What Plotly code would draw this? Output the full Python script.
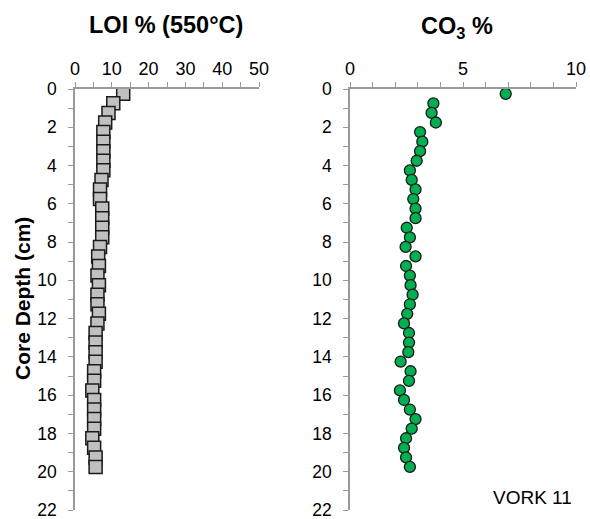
import plotly.graph_objects as go

depth = [0.25 + 0.5 * i for i in range(40)]
loi = [13.1, 10.4, 9.1, 8.2, 7.7, 7.7, 7.7, 7.7, 7.7, 7.2,
       6.8, 6.8, 7.4, 7.4, 7.4, 7.4, 6.8, 6.3, 6.5, 6.1,
       6.5, 6.1, 6.1, 6.5, 6.1, 5.6, 5.6, 5.6, 5.6, 5.2,
       5.2, 4.7, 5.2, 5.2, 5.2, 5.2, 4.7, 5.2, 5.6, 5.6]
co3 = [6.89, 3.69, 3.61, 3.80, 3.10, 3.20, 3.10, 2.95, 2.65, 2.73,
       2.90, 2.80, 2.90, 2.90, 2.51, 2.65, 2.46, 2.90, 2.48, 2.65,
       2.68, 2.77, 2.65, 2.53, 2.39, 2.61, 2.61, 2.58, 2.24, 2.68,
       2.61, 2.21, 2.39, 2.65, 2.90, 2.73, 2.48, 2.39, 2.48, 2.65]

W, H = 590, 519
FONT = "Liberation Sans, Arial, sans-serif"
AX = "#9a9a9a"

def px(x):
    return x / W

def py(y):
    return 1 - y / H

fig = go.Figure()
fig.add_trace(go.Scatter(
    x=loi, y=depth, xaxis="x", yaxis="y", mode="markers",
    marker=dict(symbol="square", size=13, color="#c0c0c0",
                line=dict(color="#1a1a1a", width=1.5)),
    showlegend=False))
fig.add_trace(go.Scatter(
    x=co3[1:], y=depth[1:], xaxis="x2", yaxis="y2", mode="lines",
    line=dict(color="#00b050", width=1, dash="dash"),
    showlegend=False, hoverinfo="skip"))
fig.add_trace(go.Scatter(
    x=co3, y=depth, xaxis="x2", yaxis="y2", mode="markers",
    marker=dict(symbol="circle", size=11, color="#00b050",
                line=dict(color="#1a1a1a", width=1.3)),
    showlegend=False))

xcommon = dict(side="top", showgrid=False, zeroline=False, showline=True,
               linecolor=AX, linewidth=1.5, ticks="outside", ticklen=5,
               tickcolor=AX, tickwidth=1, ticklabeloverflow="allow",
               tickfont=dict(family=FONT, size=18, color="#000"),
               automargin=False)
ycommon = dict(range=[22, 0], showgrid=False, zeroline=False, showline=True,
               linecolor=AX, linewidth=1.5, ticks="outside", ticklen=5,
               tickcolor=AX, tickwidth=1, dtick=2, tick0=0,
               ticklabeloverflow="allow", ticklabelstandoff=8,
               minor=dict(dtick=1, ticks="outside", ticklen=5, tickcolor=AX),
               tickfont=dict(family=FONT, size=17.5, color="#000"),
               automargin=False)

fig.update_layout(
    width=W, height=H,
    margin=dict(l=0, r=0, t=0, b=0),
    plot_bgcolor="white", paper_bgcolor="white",
    xaxis=dict(xcommon, domain=[px(75), px(259)], range=[0, 50], dtick=10,
               minor=dict(dtick=5, ticks="outside", ticklen=5, tickcolor=AX),
               anchor="y"),
    yaxis=dict(ycommon, domain=[py(510), py(89)], anchor="x"),
    xaxis2=dict(xcommon, domain=[px(350), px(576)], range=[0, 10], dtick=5,
                minor=dict(dtick=1, ticks="outside", ticklen=5, tickcolor=AX),
                anchor="y2"),
    yaxis2=dict(ycommon, domain=[py(510), py(89)], anchor="x2"),
    annotations=[
        dict(text="<b>LOI % (550°C)</b>", x=px(166), y=py(25), xref="paper", yref="paper",
             showarrow=False, xanchor="center", yanchor="middle",
             font=dict(family=FONT, size=23.5, color="#000")),
        dict(text="<b>CO<sub>3</sub> %</b>", x=px(457), y=py(27), xref="paper", yref="paper",
             showarrow=False, xanchor="center", yanchor="middle",
             font=dict(family=FONT, size=23.5, color="#000")),
        dict(text="<b>Core Depth (cm)</b>", x=px(22), y=py(299), xref="paper", yref="paper",
             showarrow=False, xanchor="center", yanchor="middle", textangle=-90,
             font=dict(family=FONT, size=21, color="#000")),
        dict(text="VORK 11", x=px(532), y=py(497), xref="paper", yref="paper",
             showarrow=False, xanchor="center", yanchor="middle",
             font=dict(family=FONT, size=19, color="#000")),
    ],
)

fig.write_html("out.html", config={"displayModeBar": False},
               post_script="document.body.style.margin='0px';")
